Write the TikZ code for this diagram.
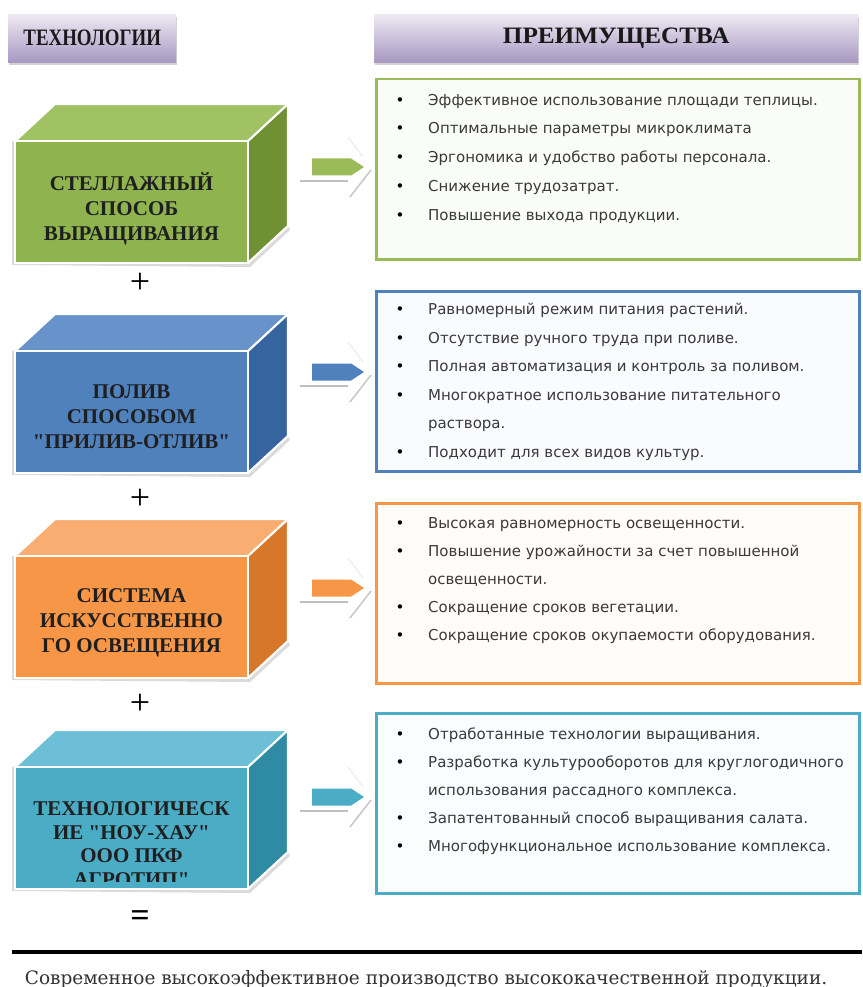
\documentclass[tikz,border=0pt]{standalone}
\usepackage{fontspec}
\setmainfont{Liberation Serif}[Ligatures=TeXOff]
\newfontfamily\sansbody{DejaVu Sans}
\newfontfamily\footfont{DejaVu Serif}
\usetikzlibrary{shadows}
\definecolor{gfront}{HTML}{8EB34F}
\definecolor{gtop}{HTML}{A0C262}
\definecolor{gside}{HTML}{6F9133}
\definecolor{gline}{HTML}{9BBB59}
\definecolor{bfront}{HTML}{4F81BD}
\definecolor{btop}{HTML}{6893CA}
\definecolor{bside}{HTML}{36649E}
\definecolor{ofront}{HTML}{F79646}
\definecolor{otop}{HTML}{F9AD70}
\definecolor{oside}{HTML}{D7772A}
\definecolor{tfront}{HTML}{4BACC6}
\definecolor{ttop}{HTML}{6CBFD6}
\definecolor{tside}{HTML}{2F8AA3}
\definecolor{lavlight}{HTML}{EEEAF3}
\definecolor{lavdark}{HTML}{A898C2}
\definecolor{txtgray}{HTML}{3A3A3A}
\tikzset{
  hdr/.style={draw=none, top color=lavlight, bottom color=lavdark, anchor=north west,
    minimum height=48pt, inner sep=0pt, font=\fontsize{21}{24}\selectfont\bfseries, text=black!90,
    drop shadow={opacity=0.35, shadow xshift=1pt, shadow yshift=-3pt}},
  face/.style={draw=none, minimum width=233pt, minimum height=122pt, inner sep=0pt, outer sep=0pt},
  lbl/.style={align=center, font=\fontsize{21}{25}\selectfont\bfseries, text=black!88, inner sep=0pt},
  panel/.style={line width=2.5pt, anchor=north west, minimum width=483pt, minimum height=180pt, inner sep=0pt},
  bul/.style={anchor=base, inner sep=0pt, font=\sansbody\fontsize{15}{18}\selectfont, text=black},
  itm/.style={anchor=base west, inner sep=0pt, font=\sansbody\fontsize{15}{18}\selectfont, text=txtgray},
  sign/.style={inner sep=0pt, font=\fontsize{36}{36}\selectfont},
  rim/.style={white, line width=2.2pt, line join=round},
  shade/.style={black!14},
}
\newcommand{\drawcube}[3]{%
  \fill[shade] ([shift={(-3,2)}]#1.south west) -- ([shift={(2,4)}]#1.south east) -- ([shift={(42,-33)}]#1.south east) -- ([shift={(40,-37)}]#1.south east) -- (#1.south east) -- (#1.south west) -- cycle;
  \fill[shade] ([shift={(-3,0)}]#1.north west) rectangle ([shift={(0,2)}]#1.south west);
  \fill[#2] (#1.north west) -- ([shift={(40,-37)}]#1.north west) -- ([shift={(40,-37)}]#1.north east) -- (#1.north east) -- cycle;
  \fill[#3] (#1.north east) -- ([shift={(40,-37)}]#1.north east) -- ([shift={(40,-37)}]#1.south east) -- (#1.south east) -- cycle;
  \draw[rim] (#1.north west) -- ([shift={(40,-37)}]#1.north west) -- ([shift={(40,-37)}]#1.north east) -- ([shift={(40,-37)}]#1.south east) -- (#1.south east);
  \draw[rim] (#1.north east) -- ([shift={(40,-37)}]#1.north east);
  \draw[rim] (#1.north west) rectangle (#1.south east);
}
\newcommand{\bigarrow}[2]{%
  \fill[#2] (312,#1-8.5) -- (351,#1-8.5) -- (364,#1) -- (351,#1+8.5) -- (312,#1+8.5) -- cycle;
  \draw[black!25, line width=1.5pt] (300,#1+14) -- (348,#1+14);
  \draw[black!22, line width=1.5pt] (350,#1+30) -- (371,#1+3);
  \draw[black!8, line width=1pt] (348,#1-30) -- (363,#1-10);
}
\begin{document}
\begin{tikzpicture}[x=1pt,y=-1pt]
\useasboundingbox (0,0) rectangle (862,987);
\fill[white] (0,0) rectangle (862,987);

% headers
\node[hdr, minimum width=168pt] (h1) at (8,14) {\scalebox{0.9}[1.12]{ТЕХНОЛОГИИ}};
\node[hdr, minimum width=484pt] (h2) at (374,14) {\scalebox{1.2}[1.12]{ПРЕИМУЩЕСТВА}};

% cubes
\node[face, fill=gfront] (c1) at (131.5,202) {};
\drawcube{c1}{gtop}{gside}
\node[lbl] (l1) at (131.5,209) {СТЕЛЛАЖНЫЙ\\СПОСОБ\\ВЫРАЩИВАНИЯ};

\node[face, fill=bfront] (c2) at (131.5,412) {};
\drawcube{c2}{btop}{bside}
\node[lbl] (l2) at (131.5,417) {ПОЛИВ\\СПОСОБОМ\\"ПРИЛИВ-ОТЛИВ"};

\node[face, fill=ofront] (c3) at (131.5,617) {};
\drawcube{c3}{otop}{oside}
\node[lbl] (l3) at (131.5,623) {СИСТЕМА\\ИСКУССТВЕННО\\ГО ОСВЕЩЕНИЯ};

\node[face, fill=tfront] (c4) at (131.5,828) {};
\drawcube{c4}{ttop}{tside}
\begin{scope}
\clip (18,770) rectangle (245,881);
\node[lbl, font=\fontsize{21}{23.5}\selectfont\bfseries] (l4) at (131.5,844) {ТЕХНОЛОГИЧЕСК\\ИЕ "НОУ-ХАУ"\\ООО ПКФ\\АГРОТИП"};
\end{scope}

% signs
\node[sign] (p1) at (140,283) {+};
\node[sign] (p2) at (140,499) {+};
\node[sign] (p3) at (140,704) {+};
\node[sign, font=\fontsize{34}{34}\selectfont\bfseries] (eq) at (140,919) {=};

% arrows
\bigarrow{167}{gline}
\bigarrow{372}{bfront}
\bigarrow{588}{ofront}
\bigarrow{797}{tfront}

% panels
\node[panel, draw=gline, fill=gline!5] (r1) at (375,78) {};
\node[panel, draw=bfront, fill=bfront!3] (r2) at (375,290) {};
\node[panel, draw=ofront, fill=ofront!3] (r3) at (375,502) {};
\node[panel, draw=tfront, fill=tfront!3] (r4) at (375,712) {};

% green items
\foreach \n/\y/\t in {1/105.5/{Эффективное использование площади теплицы.},
  2/134/{Оптимальные параметры микроклимата},
  3/162.5/{Эргономика и удобство работы персонала.},
  4/191.5/{Снижение трудозатрат.},
  5/220.5/{Повышение выхода продукции.}}{
  \node[bul] (gb\n) at (400,\y) {•};
  \node[itm] (gt\n) at (428,\y) {\t};
}
% blue items
\foreach \n/\y/\t in {1/314.5/{Равномерный режим питания растений.},
  2/343/{Отсутствие ручного труда при поливе.},
  3/371.5/{Полная автоматизация и контроль за поливом.},
  4/400/{Многократное использование питательного},
  6/457/{Подходит для всех видов культур.}}{
  \node[bul] (bb\n) at (400,\y) {•};
  \node[itm] (bt\n) at (428,\y) {\t};
}
\node[itm] (bt5) at (428,428.5) {раствора.};
% orange items
\foreach \n/\y/\t in {1/528.5/{Высокая равномерность освещенности.},
  2/556.5/{Повышение урожайности за счет повышенной},
  4/612.5/{Сокращение сроков вегетации.},
  5/640.5/{Сокращение сроков окупаемости оборудования.}}{
  \node[bul] (ob\n) at (400,\y) {•};
  \node[itm] (ot\n) at (428,\y) {\t};
}
\node[itm] (ot3) at (428,584.5) {освещенности.};
% teal items
\foreach \n/\y/\t in {1/739.5/{Отработанные технологии выращивания.},
  2/767.5/{Разработка культурооборотов для круглогодичного},
  4/823.5/{Запатентованный способ выращивания салата.},
  5/851.5/{Многофункциональное использование комплекса.}}{
  \node[bul] (tb\n) at (400,\y) {•};
  \node[itm] (tt\n) at (428,\y) {\t};
}
\node[itm] (tt3) at (428,795.5) {использования рассадного комплекса.};

% bottom
\coordinate (ls) at (12,952);
\coordinate (le) at (862,952);
\draw[line width=4pt] (ls) -- (le);
\node[inner sep=0pt, anchor=base, font=\footfont\fontsize{18.5}{22}\selectfont, text=black!80] (ft) at (426,984) {Современное высокоэффективное производство высококачественной продукции.};
\end{tikzpicture}
\end{document}
